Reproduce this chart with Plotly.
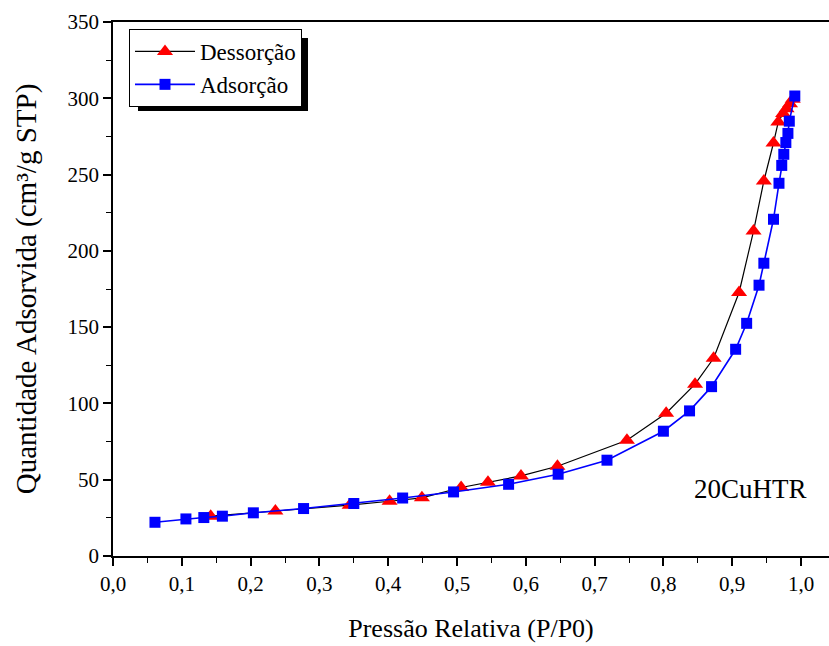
import plotly.graph_objects as go

# Desorption branch (red triangles)
des_x = [0.142, 0.236, 0.344, 0.402, 0.449, 0.506, 0.545, 0.593, 0.646, 0.747, 0.804,
         0.846, 0.873, 0.910, 0.931, 0.946, 0.960, 0.967, 0.974, 0.979, 0.984, 0.988]
des_y = [26.1, 29.5, 33.3, 35.9, 38.1, 44.9, 48.4, 52.5, 58.8, 75.9, 93.6,
         112.6, 129.6, 172.7, 213.0, 245.8, 270.7, 284.5, 290.0, 293.2, 296.5, 299.3]

# Adsorption branch (blue squares)
ads_x = [0.061, 0.106, 0.132, 0.159, 0.204, 0.277, 0.350, 0.421, 0.495, 0.575, 0.647,
         0.718, 0.800, 0.838, 0.870, 0.905, 0.921, 0.939, 0.946, 0.960, 0.968, 0.972,
         0.975, 0.978, 0.981, 0.983, 0.991]
ads_y = [22.1, 24.3, 25.2, 26.1, 28.3, 31.1, 34.4, 38.0, 42.0, 47.0, 53.6,
         62.8, 81.8, 95.1, 111.0, 135.5, 152.5, 177.5, 191.9, 220.7, 244.3, 256.0,
         263.3, 271.0, 277.0, 285.0, 301.5]

x_ticks = [0.0, 0.1, 0.2, 0.3, 0.4, 0.5, 0.6, 0.7, 0.8, 0.9, 1.0]
y_ticks = [0, 50, 100, 150, 200, 250, 300, 350]

FONT = "Liberation Serif, Times New Roman, Times, serif"

fig = go.Figure()
fig.add_trace(go.Scatter(
    x=des_x, y=des_y, name="Dessorção", mode="lines+markers",
    line=dict(color="black", width=1.2),
    marker=dict(symbol="triangle-up", size=14, color="red"),
))
fig.add_trace(go.Scatter(
    x=ads_x, y=ads_y, name="Adsorção", mode="lines+markers",
    line=dict(color="blue", width=1.6),
    marker=dict(symbol="square", size=11, color="blue"),
))

W, H = 829, 646
ml, mt, mb, mr = 113, 22, 90, 0
pw, ph = W - ml - mr, H - mt - mb

def px_x(p):
    return (p - ml) / pw

def px_y(p):
    return 1 - (p - mt) / ph

# legend drop shadow
fig.add_shape(type="rect", xref="paper", yref="paper",
              x0=px_x(138), x1=px_x(308), y0=px_y(111), y1=px_y(38),
              fillcolor="black", line=dict(width=0), layer="above")

fig.add_annotation(text="20CuHTR", xref="paper", yref="paper",
                   x=px_x(750), y=px_y(489), xanchor="center", yanchor="middle",
                   showarrow=False,
                   font=dict(family=FONT, size=27, color="black"))

fig.update_layout(
    width=W, height=H,
    margin=dict(l=ml, r=mr, t=mt, b=mb),
    paper_bgcolor="white", plot_bgcolor="white",
    separators=", ",
    font=dict(family=FONT, color="black"),
    legend=dict(x=px_x(129), y=px_y(29), xanchor="left", yanchor="top",
                bgcolor="white", bordercolor="black", borderwidth=1,
                font=dict(family=FONT, size=23, color="black"),
                itemwidth=60, tracegroupgap=0),
    showlegend=True,
)

fig.update_xaxes(
    range=[0, (W - ml - mr) / 688.0], tickvals=x_ticks, tickformat=".1f",
    showgrid=False, zeroline=False,
    showline=True, linecolor="black", linewidth=1.8, mirror=True,
    ticks="outside", ticklen=8, tickwidth=1.5, tickcolor="black",
    minor=dict(dtick=0.05, ticks="outside", ticklen=5, tickwidth=1.2, tickcolor="black", showgrid=False),
    tickfont=dict(family=FONT, size=21, color="black"),
    title=dict(text="Pressão Relativa (P/P0)", font=dict(family=FONT, size=26, color="black"), standoff=24),
)
fig.update_yaxes(
    range=[0, 350], tickvals=y_ticks,
    showgrid=False, zeroline=False,
    showline=True, linecolor="black", linewidth=1.8,
    ticks="outside", ticklen=8, tickwidth=1.5, tickcolor="black",
    minor=dict(dtick=25, ticks="outside", ticklen=5, tickwidth=1.2, tickcolor="black", showgrid=False),
    tickfont=dict(family=FONT, size=21, color="black"),
    title=dict(text="Quantidade Adsorvida (cm³/g STP)", font=dict(family=FONT, size=29, color="black"), standoff=22),
)

fig.write_html("out.html")
